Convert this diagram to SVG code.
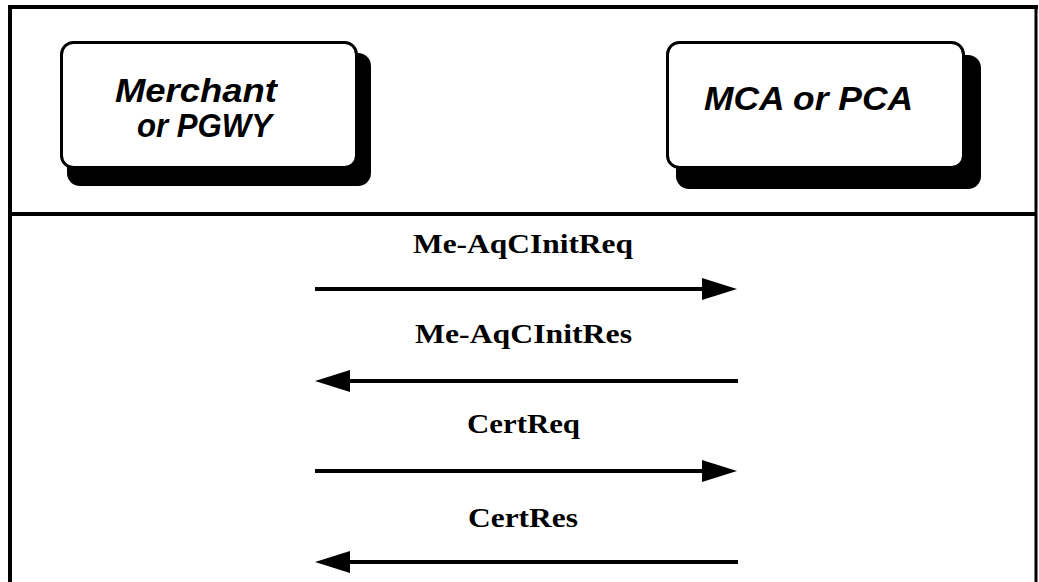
<svg xmlns="http://www.w3.org/2000/svg" width="1039" height="582" viewBox="0 0 1039 582">
  <style>
    .frame { stroke: #000; stroke-width: 4; fill: none; }
    .box { fill: #fff; stroke: #000; stroke-width: 3; }
    .shadow { fill: #000; }
    .node-label { font-family: "Liberation Sans", Arial, sans-serif; font-weight: bold; font-style: italic; font-size: 33px; fill: #000; }
    .msg { font-family: "Liberation Serif", "Times New Roman", serif; font-weight: bold; font-size: 28px; fill: #000; text-anchor: middle; }
    .wire { stroke: #000; stroke-width: 4; fill: none; }
    .head { fill: #000; }
  </style>
  <rect width="1039" height="582" fill="#fff"/>

  <!-- outer frame and header divider -->
  <g id="frame">
    <line class="frame" x1="10" y1="582" x2="10" y2="5"/>
    <line class="frame" x1="8" y1="7" x2="1038" y2="7"/>
    <line class="frame" x1="1036" y1="5" x2="1036" y2="582" style="stroke-width:3"/>
    <line class="frame" x1="10" y1="214" x2="1037" y2="214"/>
  </g>

  <!-- left party -->
  <g id="merchant">
    <rect class="shadow" x="67" y="53" width="304" height="133" rx="13"/>
    <rect class="box" x="61.5" y="42.5" width="295" height="125" rx="12"/>
    <text class="node-label" x="115" y="102" textLength="162" lengthAdjust="spacingAndGlyphs">Merchant</text>
    <text class="node-label" x="137" y="137" textLength="135" lengthAdjust="spacingAndGlyphs">or PGWY</text>
  </g>

  <!-- right party -->
  <g id="ca">
    <rect class="shadow" x="676" y="55" width="305" height="134" rx="13"/>
    <rect class="box" x="667.5" y="42.5" width="296" height="125" rx="12"/>
    <text class="node-label" x="704" y="110" textLength="209" lengthAdjust="spacingAndGlyphs">MCA or PCA</text>
  </g>

  <!-- message flow -->
  <g id="connectors">
    <text class="msg" x="523" y="253" textLength="220" lengthAdjust="spacingAndGlyphs">Me-AqCInitReq</text>
    <line class="wire" x1="315" y1="289" x2="705" y2="289"/>
    <polygon class="head" points="702,278 737,289 702,300"/>

    <text class="msg" x="523.5" y="343" textLength="217" lengthAdjust="spacingAndGlyphs">Me-AqCInitRes</text>
    <line class="wire" x1="347" y1="381" x2="738" y2="381"/>
    <polygon class="head" points="350,370 315,381 350,392"/>

    <text class="msg" x="523.5" y="433" textLength="113" lengthAdjust="spacingAndGlyphs">CertReq</text>
    <line class="wire" x1="315" y1="471" x2="705" y2="471"/>
    <polygon class="head" points="702,460 737,471 702,482"/>

    <text class="msg" x="523" y="527" textLength="110" lengthAdjust="spacingAndGlyphs">CertRes</text>
    <line class="wire" x1="347" y1="562" x2="738" y2="562"/>
    <polygon class="head" points="350,551 315,562 350,573"/>
  </g>
</svg>
